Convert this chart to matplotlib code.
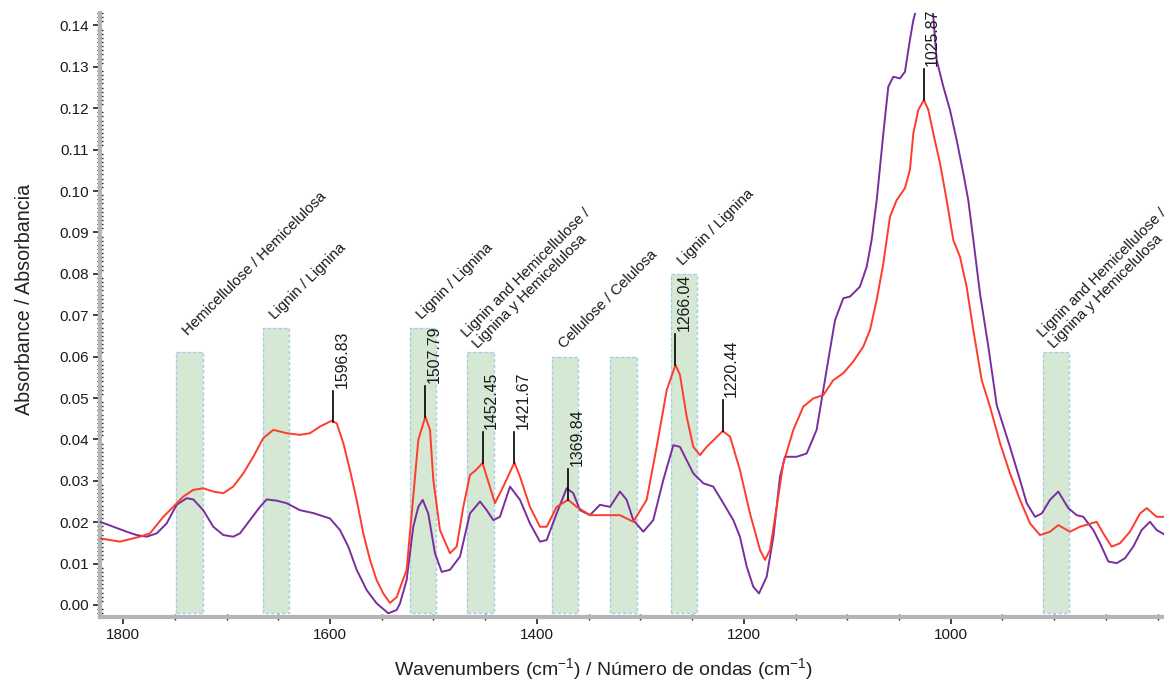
import matplotlib
matplotlib.use("Agg")
import matplotlib.pyplot as plt
from matplotlib.ticker import MultipleLocator, FormatStrFormatter
import numpy as np

# ---------------- data ----------------
red_wn = [1822.3, 1803.0, 1783.7, 1774.0, 1761.1, 1751.5, 1741.8, 1732.1, 1722.5, 1712.8,
          1703.1, 1693.5, 1683.8, 1674.1, 1664.5, 1654.8, 1641.9, 1629.0, 1619.3, 1609.7,
          1598.4, 1593.5, 1587.1, 1580.7, 1574.2, 1567.8, 1561.3, 1554.9, 1548.5, 1542.0,
          1535.5, 1525.9, 1519.5, 1514.6, 1507.8, 1503.3, 1500.1, 1493.7, 1484.0, 1477.5,
          1471.1, 1464.7, 1458.9, 1452.5, 1448.5, 1440.5, 1432.5, 1421.7, 1416.3, 1406.7,
          1397.0, 1390.5, 1380.9, 1369.8, 1361.5, 1348.7, 1332.5, 1319.7, 1306.8, 1293.9,
          1284.2, 1274.5, 1266.0, 1261.7, 1255.2, 1248.8, 1242.3, 1235.9, 1220.4, 1213.3,
          1203.7, 1194.0, 1184.3, 1179.5, 1174.7, 1168.2, 1161.8, 1152.1, 1142.5, 1132.8,
          1123.1, 1113.5, 1103.8, 1094.2, 1084.5, 1078.0, 1071.5, 1065.1, 1058.7, 1052.2,
          1044.2, 1039.4, 1036.1, 1031.3, 1025.9, 1021.6, 1016.8, 1010.3, 1003.9, 997.5,
          991.0, 984.6, 978.1, 970.0, 962.0, 952.3, 942.7, 933.0, 923.3, 913.7,
          904.0, 896.0, 884.7, 875.0, 858.9, 852.5, 844.4, 836.4, 826.7, 817.0,
          810.5, 800.9, 793.8]
red_abs = [0.0161, 0.0153, 0.0165, 0.0173, 0.0213, 0.0237, 0.0262, 0.0278, 0.0282, 0.0274,
           0.0270, 0.0286, 0.0318, 0.0358, 0.0403, 0.0423, 0.0415, 0.0411, 0.0415, 0.0431,
           0.0445, 0.0439, 0.0391, 0.0326, 0.0254, 0.0173, 0.0109, 0.0060, 0.0028, 0.0005,
           0.0019, 0.0085, 0.0262, 0.0399, 0.0455, 0.0423, 0.0302, 0.0181, 0.0125, 0.0141,
           0.0237, 0.0314, 0.0326, 0.0343, 0.0310, 0.0246, 0.0286, 0.0344, 0.0310, 0.0237,
           0.0189, 0.0189, 0.0237, 0.0254, 0.0237, 0.0217, 0.0217, 0.0217, 0.0201, 0.0254,
           0.0382, 0.0519, 0.0580, 0.0556, 0.0455, 0.0382, 0.0362, 0.0382, 0.0420, 0.0407,
           0.0326, 0.0221, 0.0133, 0.0109, 0.0133, 0.0237, 0.0342, 0.0423, 0.0479, 0.0499,
           0.0507, 0.0543, 0.0560, 0.0588, 0.0624, 0.0664, 0.0737, 0.0825, 0.0938, 0.0978,
           0.1007, 0.1051, 0.1139, 0.1196, 0.1220, 0.1196, 0.1139, 0.1067, 0.0978, 0.0882,
           0.0841, 0.0769, 0.0664, 0.0543, 0.0479, 0.0391, 0.0318, 0.0254, 0.0197, 0.0169,
           0.0177, 0.0193, 0.0177, 0.0189, 0.0201, 0.0173, 0.0141, 0.0149, 0.0177, 0.0221,
           0.0234, 0.0213, 0.0213]

purple_wn = [1822.3, 1809.5, 1796.5, 1786.9, 1777.2, 1767.5, 1757.9, 1748.2, 1738.5, 1732.1,
             1722.5, 1712.8, 1703.1, 1693.5, 1687.0, 1677.3, 1667.7, 1661.2, 1651.5, 1641.9,
             1629.0, 1616.1, 1600.0, 1590.3, 1582.3, 1574.2, 1564.5, 1554.9, 1543.6, 1535.5,
             1532.3, 1525.9, 1519.5, 1514.6, 1510.4, 1505.0, 1498.5, 1492.0, 1484.0, 1474.3,
             1464.7, 1455.0, 1448.5, 1442.1, 1435.7, 1426.0, 1416.3, 1406.7, 1397.0, 1390.5,
             1380.9, 1371.2, 1364.8, 1358.3, 1348.7, 1339.0, 1329.3, 1319.7, 1313.2, 1306.8,
             1297.1, 1287.5, 1277.8, 1268.1, 1261.7, 1258.5, 1248.8, 1239.1, 1229.5, 1219.8,
             1210.1, 1203.7, 1197.2, 1190.8, 1185.3, 1177.9, 1171.4, 1165.0, 1160.2, 1148.9,
             1139.2, 1129.6, 1123.2, 1118.3, 1111.8, 1103.8, 1097.3, 1087.7, 1081.2, 1076.4,
             1071.5, 1065.1, 1060.3, 1055.5, 1049.0, 1044.2, 1039.4, 1036.1, 1029.7, 1023.9,
             1018.1, 1013.5, 1007.1, 1000.7, 994.2, 987.8, 983.0, 978.1, 971.7, 963.6,
             955.5, 942.7, 933.0, 926.5, 918.5, 912.0, 904.0, 896.0, 891.1, 886.3,
             878.2, 871.8, 862.1, 855.6, 847.6, 839.5, 831.5, 823.5, 815.4, 807.4,
             800.9, 793.8]
purple_abs = [0.0201, 0.0189, 0.0177, 0.0169, 0.0165, 0.0173, 0.0197, 0.0242, 0.0258, 0.0255,
              0.0229, 0.0189, 0.0169, 0.0165, 0.0173, 0.0205, 0.0237, 0.0255, 0.0252, 0.0246,
              0.0229, 0.0222, 0.0209, 0.0181, 0.0141, 0.0085, 0.0036, 0.0004, -0.0020, -0.0012,
              0.0004, 0.0060, 0.0189, 0.0237, 0.0254, 0.0221, 0.0125, 0.0080, 0.0085, 0.0117,
              0.0221, 0.0250, 0.0229, 0.0205, 0.0213, 0.0286, 0.0254, 0.0197, 0.0153, 0.0157,
              0.0221, 0.0282, 0.0270, 0.0229, 0.0217, 0.0242, 0.0237, 0.0274, 0.0254, 0.0205,
              0.0177, 0.0205, 0.0302, 0.0386, 0.0382, 0.0366, 0.0318, 0.0294, 0.0286, 0.0246,
              0.0205, 0.0165, 0.0093, 0.0044, 0.0028, 0.0068, 0.0165, 0.0310, 0.0358, 0.0358,
              0.0366, 0.0423, 0.0519, 0.0592, 0.0688, 0.0741, 0.0745, 0.0769, 0.0817, 0.0882,
              0.0978, 0.1139, 0.1252, 0.1276, 0.1272, 0.1288, 0.1365, 0.1413, 0.1473, 0.1500,
              0.1461, 0.1316, 0.1252, 0.1196, 0.1123, 0.1043, 0.0978, 0.0882, 0.0753, 0.0624,
              0.0483, 0.0382, 0.0302, 0.0246, 0.0213, 0.0221, 0.0254, 0.0274, 0.0254, 0.0234,
              0.0217, 0.0213, 0.0181, 0.0149, 0.0105, 0.0101, 0.0113, 0.0141, 0.0181, 0.0201,
              0.0181, 0.0171]

band_hi = [1749.0, 1665.0, 1523.0, 1467.5, 1385.5, 1329.5, 1270.5, 911.0]
band_lo = [1723.0, 1640.0, 1497.5, 1441.5, 1360.5, 1303.0, 1245.0, 886.0]
band_top = [0.061, 0.067, 0.067, 0.061, 0.060, 0.060, 0.080, 0.061]
band_labels = ['Hemicellulose / Hemicelulosa', 'Lignin / Lignina', 'Lignin / Lignina',
               'Lignin and Hemicellulose /\nLignina y Hemicelulosa', 'Cellulose / Celulosa',
               '', 'Lignin / Lignina',
               'Lignin and Hemicellulose /\nLignina y Hemicelulosa']

peak_wn = [1596.83, 1507.79, 1452.45, 1421.67, 1369.84, 1266.04, 1220.44, 1025.87]

x_ticks = [1800, 1600, 1400, 1200, 1000]
y_ticks = [0.00, 0.01, 0.02, 0.03, 0.04, 0.05, 0.06, 0.07, 0.08, 0.09, 0.10, 0.11, 0.12, 0.13, 0.14]

# ---------------- style ----------------
FONT = ['Liberation Sans', 'DejaVu Sans']
plt.rcParams['font.family'] = FONT
plt.rcParams['mathtext.default'] = 'regular'

fig = plt.figure(figsize=(11.64, 6.83), dpi=100)
ax = fig.add_axes([100 / 1164, 1 - 617 / 683, 1064 / 1164, 604 / 683])

RED = '#ff3b2b'
PURPLE = '#7a2e9e'
TXT = '#1a1a1a'

# bands
label_dy = [0.0035, 0.0013, 0.0013, 0.0004, 0.0013, 0.0, 0.0013, 0.0004]
for hi, lo, top, lab, dy in zip(band_hi, band_lo, band_top, band_labels, label_dy):
    ax.fill_between([hi, lo], -0.0019, top, color='#d5e8d3', zorder=1, linewidth=0)
    ax.plot([hi, hi, lo, lo, hi], [-0.0019, top, top, -0.0019, -0.0019],
            color='#a9cde8', lw=1.0, ls=(0, (2.5, 1.5)), zorder=1.5)
    if lab:
        if '\n' in lab:
            xa = (hi + lo) / 2
        else:
            xa = hi - 14
        ax.text(xa, top + dy, lab, rotation=45, rotation_mode='anchor',
                ha='left', va='bottom', fontsize=10.8, color=TXT,
                linespacing=1.15, clip_on=False, zorder=5)

# spectra
ax.plot(purple_wn, purple_abs, color=PURPLE, lw=1.4, zorder=3)
ax.plot(red_wn, red_abs, color=RED, lw=1.4, zorder=4)

# peak annotations on the red spectrum
rw = np.array(red_wn)[::-1]
ra = np.array(red_abs)[::-1]
for p in peak_wn:
    yp = np.interp(p, rw, ra)
    ax.plot([p, p], [yp, yp + 0.0075], color='black', lw=1.2, zorder=6)
    ax.text(p - 8.5, yp + 0.0082, f'{p:.2f}', rotation=90, ha='center', va='bottom',
            fontsize=11.4, color=TXT, zorder=6)

# axes
ax.set_xlim(1822.3, 793.8)
ax.set_ylim(-0.0029, 0.143)
ax.xaxis.set_major_locator(plt.FixedLocator(x_ticks))
ax.xaxis.set_minor_locator(MultipleLocator(50))
ax.yaxis.set_major_locator(plt.FixedLocator(y_ticks))
ax.yaxis.set_minor_locator(MultipleLocator(0.001))
ax.yaxis.set_major_formatter(FormatStrFormatter('%.2f'))
ax.xaxis.set_major_formatter(FormatStrFormatter('%d'))

for s in ['top', 'right']:
    ax.spines[s].set_visible(False)
for s in ['left', 'bottom']:
    ax.spines[s].set_color('#b5b5b5')
    ax.spines[s].set_linewidth(3)

ax.tick_params(axis='both', which='major', direction='out', length=5, width=1.2,
               color='#222222', labelsize=11, labelcolor=TXT, pad=3)
ax.tick_params(axis='both', which='minor', direction='inout', length=4, width=1.0,
               color='#222222')

ax.set_xlabel('Wavenumbers (cm$^{-1}$) / Número de ondas (cm$^{-1}$)',
              fontsize=14, color='#222222')
ax.xaxis.set_label_coords(0.473, -0.065)
ax.xaxis.label.set_va('top')
ax.set_ylabel('Absorbance / Absorbancia', fontsize=14.2, color='#222222')
ax.yaxis.set_label_coords(-0.062, 0.525)

fig.savefig('out.png', dpi=100)
